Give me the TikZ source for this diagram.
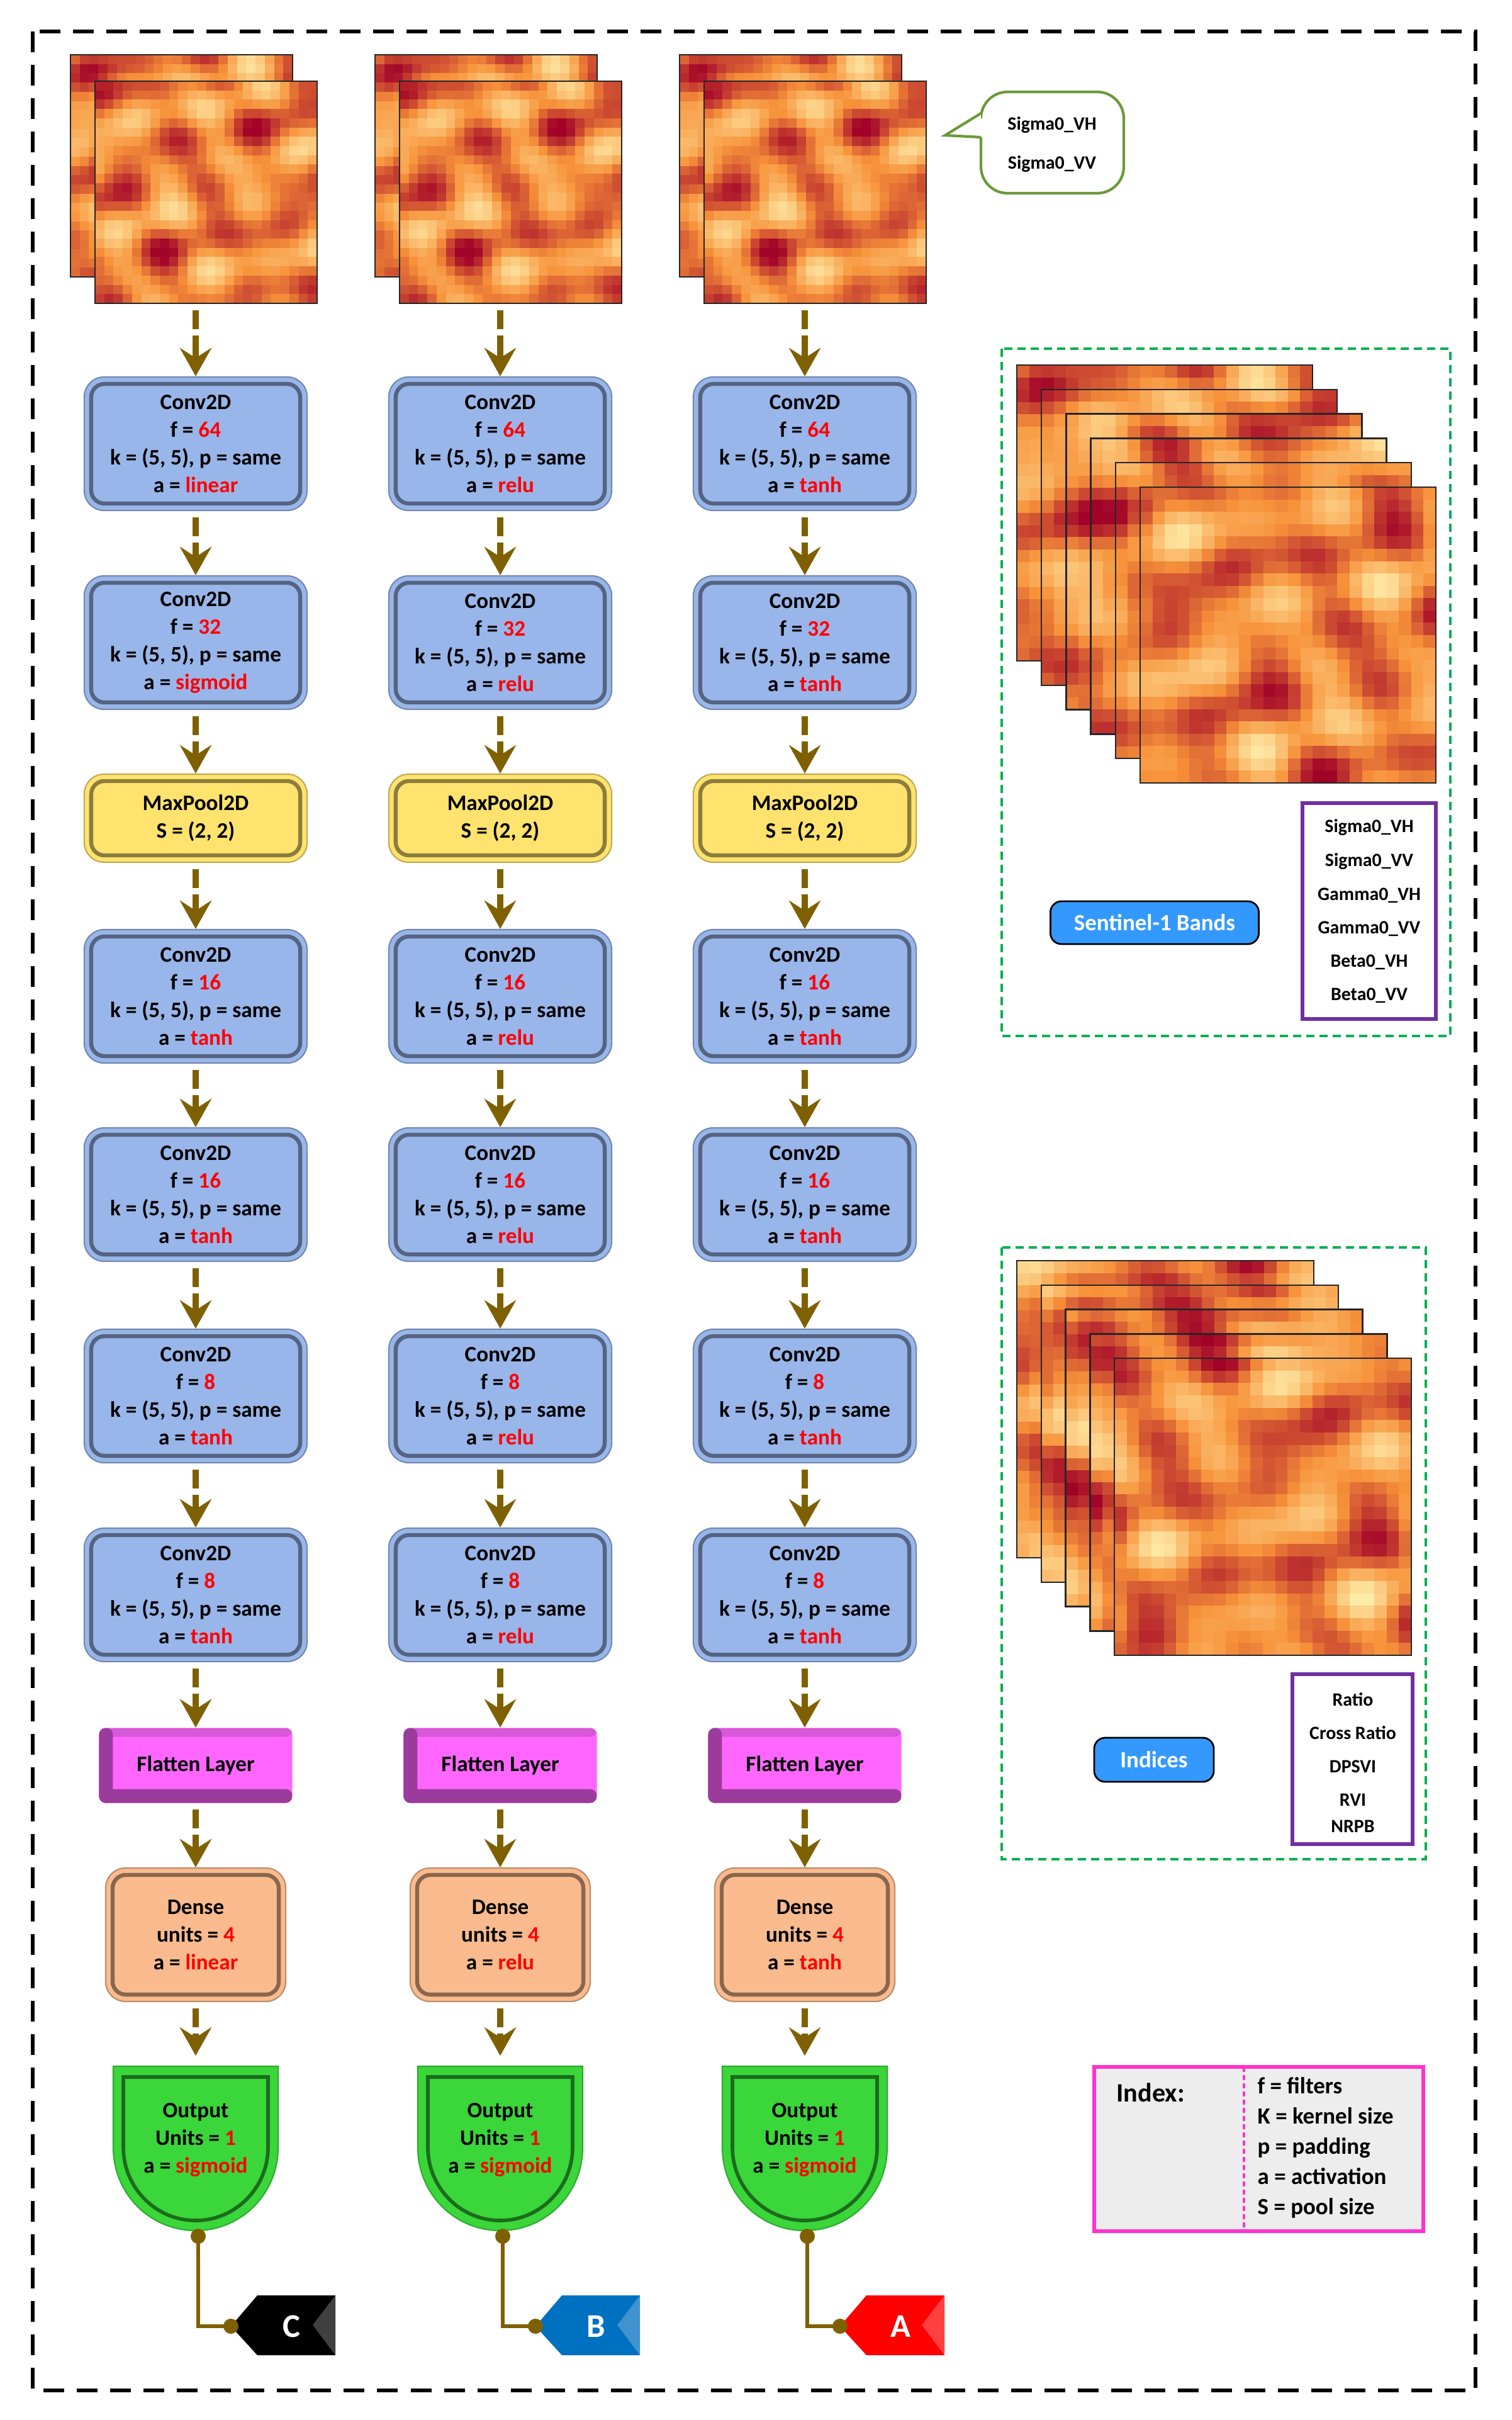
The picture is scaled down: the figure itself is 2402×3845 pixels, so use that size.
\documentclass[tikz,border=0pt]{standalone}
\usepackage{fontspec}
\setmainfont{Carlito}
\usetikzlibrary{arrows.meta,calc}
\definecolor{convc}{HTML}{99B6EA}
\definecolor{poolc}{HTML}{FFE36E}
\definecolor{flatc}{HTML}{FF66FF}
\definecolor{flatd}{HTML}{9B3B9B}
\definecolor{densc}{HTML}{F9BB8D}
\definecolor{outc}{HTML}{3AD63A}
\definecolor{arrc}{HTML}{7F6000}
\definecolor{valred}{HTML}{FF0000}
\definecolor{hc0}{HTML}{FFF2B0}
\definecolor{hc1}{HTML}{F7923A}
\definecolor{hc2}{HTML}{A00028}
\definecolor{tagb}{HTML}{0070C0}
\definecolor{tagr}{HTML}{FF0000}
\definecolor{purp}{HTML}{7030A0}
\definecolor{grn}{HTML}{00B050}
\definecolor{pink}{HTML}{FF33CC}
\definecolor{btn}{HTML}{3399FF}
\definecolor{callg}{HTML}{6A9A3A}
\newcommand\rv[1]{\textcolor{valred}{#1}}
\newcommand\bx{\fontsize{10}{12.5}\selectfont\bfseries}
\newcommand\heat[4]{%
\begin{scope}[shift={(#1,#2)}]
\pgfmathsetmacro\cs{#3/24}
\foreach \i in {0,...,23}{\foreach \j in {0,...,23}{%
 \pgfmathsetmacro\v{max(0,min(0.999,0.54+0.2*sin(33*\i+#4)*cos(27*\j+2*#4)+0.15*sin(15*\i+36*\j+3*#4)+0.12*cos(48*\i-20*\j+#4)+0.1*sin(62*\j+8*\i+5*#4)))}%
 \ifdim\v pt<0.5pt \pgfmathtruncatemacro\p{200*\v}\def\col{hc1!\p!hc0}\else\pgfmathtruncatemacro\p{200*\v-100}\def\col{hc2!\p!hc1}\fi
 \fill[\col] (\i*\cs,\j*\cs) rectangle ++(\cs+0.6,\cs+0.6);
}}
\draw[black!85,line width=0.7pt] (0,0) rectangle (#3,#3);
\end{scope}}
\tikzset{
 box/.style={draw=#1!75!black, line width=0.6pt, fill=#1, rounded corners=9pt, inner sep=0pt, align=center, font=\bx,
   path picture={\draw[#1!55!black,line width=1.8pt,rounded corners=6pt] ([shift={(11,11)}]path picture bounding box.north west) rectangle ([shift={(-11,-11)}]path picture bounding box.south east);}},
 conv/.style={box=convc, minimum width=3.54cm, minimum height=2.12cm},
 pool/.style={box=poolc, minimum width=3.54cm, minimum height=1.40cm},
 dens/.style={box=densc, minimum width=2.86cm, minimum height=2.12cm},
 flat/.style={fill=flatc, rounded corners=3pt, inner sep=0pt, font=\bx, minimum width=3.07cm, minimum height=1.19cm,
   path picture={
     \fill[flatc!85!black] (path picture bounding box.north west) rectangle ([shift={(0,14)}]path picture bounding box.north east);
     \fill[flatd] (path picture bounding box.south west) rectangle ([shift={(0,-22)}]path picture bounding box.south east);
     \fill[flatd] (path picture bounding box.south west) rectangle ([shift={(22,0)}]path picture bounding box.north west);}},
 ghost/.style={inner sep=0pt, minimum width=#1, minimum height=#1},
 arr/.style={draw=arrc, line width=2.8pt, dash pattern=on 0.3cm off 0.1cm on 3cm, -{Stealth[length=0.45cm,width=0.5cm,inset=0.16cm]}, shorten <=0.1cm},
 conn/.style={draw=arrc, line width=1.5pt},
 plist/.style={font=\fontsize{8.5}{10}\selectfont\bfseries},
 button/.style={fill=btn, draw=black, line width=0.8pt, rounded corners=5pt, text=white, font=\fontsize{10.5}{12}\selectfont\bfseries, inner sep=0pt},
}
% #1 prefix, #2 cx, #3 act1, #4 act2, #5 act, #6 dense act, #7 tag color, #8 letter, #9 phase
\newcommand\mkcol[9]{%
 \heat{#2-199}{87}{353}{#9}
 \heat{#2-160}{129}{353}{#9+40}
 \node[ghost=3.53cm] (#1im) at (#2+16.5,305.5) {};
 \node[conv] (#1c1) at (#2,705) {Conv2D\\f = \rv{64}\\k = (5, 5), p = same\\a = \rv{#3}};
 \node[conv] (#1c2) at (#2,1021) {Conv2D\\f = \rv{32}\\k = (5, 5), p = same\\a = \rv{#4}};
 \node[pool] (#1mp) at (#2,1300) {MaxPool2D\\S = (2, 2)};
 \node[conv] (#1c3) at (#2,1583) {Conv2D\\f = \rv{16}\\k = (5, 5), p = same\\a = \rv{#5}};
 \node[conv] (#1c4) at (#2,1898) {Conv2D\\f = \rv{16}\\k = (5, 5), p = same\\a = \rv{#5}};
 \node[conv] (#1c5) at (#2,2218) {Conv2D\\f = \rv{8}\\k = (5, 5), p = same\\a = \rv{#5}};
 \node[conv] (#1c6) at (#2,2534) {Conv2D\\f = \rv{8}\\k = (5, 5), p = same\\a = \rv{#5}};
 \node[flat] (#1fl) at (#2,2805) {Flatten Layer};
 \node[dens] (#1de) at (#2,3074) {Dense\\units = \rv{4}\\a = \rv{#6}};
 \path[fill=outc, draw=outc!80!black, line width=0.6pt] (#2-131,3283) -- (#2+131,3283) -- (#2+131,3412)
   .. controls (#2+131,3485) and (#2+73,3544) .. (#2,3544) .. controls (#2-73,3544) and (#2-131,3485) .. (#2-131,3412) -- cycle;
 \path[draw=outc!50!black, line width=1.6pt] (#2-115,3300) -- (#2+115,3300) -- (#2+115,3412)
   .. controls (#2+115,3475) and (#2+64,3528) .. (#2,3528) .. controls (#2-64,3528) and (#2-115,3475) .. (#2-115,3412) -- cycle;
 \node[ghost=2.62cm, align=center, font=\bx] (#1out) at (#2,3400) {Output\\Units = \rv{1}\\a = \rv{sigmoid}};
 \coordinate (#1ob) at (#2+4,3553);
 \coordinate (#1tip) at (#2+56,3696);
 \fill[#7] (#1tip) -- ++(42,-49) -- ++(124,0) -- ++(0,95) -- ++(-124,0) -- cycle;
 \fill[white,opacity=0.25] ($(#1tip)+(166,-49)$) -- ++(-36,47) -- ++(36,48) -- cycle;
 \node[text=white, font=\fontsize{15}{15}\selectfont\bfseries] (#1tag) at ($(#1tip)+(96,0)$) {#8};
 \draw[arr] (#1im.south -| #1c1.north) -- (#1c1.north);
 \draw[arr] (#1c1.south) -- (#1c2.north);
 \draw[arr] (#1c2.south) -- (#1mp.north);
 \draw[arr] (#1mp.south) -- (#1c3.north);
 \draw[arr] (#1c3.south) -- (#1c4.north);
 \draw[arr] (#1c4.south) -- (#1c5.north);
 \draw[arr] (#1c5.south) -- (#1c6.north);
 \draw[arr] (#1c6.south) -- (#1fl.north);
 \draw[arr] (#1fl.south) -- (#1de.north);
 \draw[arr] (#1de.south) -- ([yshift=0.02cm]#1out.north);
 \draw[conn] (#1ob) |- (#1tip);
 \fill[arrc] (#1ob) circle[radius=0.12cm];
 \fill[arrc] (#1tip) circle[radius=0.12cm];
}
\begin{document}
\begin{tikzpicture}[x=0.01cm,y=-0.01cm]
\useasboundingbox (0,0) rectangle (2402,3845);
\fill[white] (0,0) rectangle (2402,3845);
\draw[black, line width=1.5pt, dash pattern=on 0.33cm off 0.2cm] (52,50) rectangle (2345,3798);
\mkcol{L}{311}{linear}{sigmoid}{tanh}{linear}{black}{C}{0}
\mkcol{M}{795}{relu}{relu}{relu}{relu}{tagb}{B}{0}
\mkcol{R}{1279}{tanh}{tanh}{tanh}{tanh}{tagr}{A}{0}
% callout
\draw[callg, line width=1.2pt, fill=white, rounded corners=12pt] (1559,218) -- (1559,307) -- (1786,307) -- (1786,146) -- (1559,146) -- (1559,180);
\draw[callg, line width=1.2pt, fill=white] (1559,180) -- (1502,215) -- (1559,218);
\node[plist] (cal1) at (1672,199) {Sigma0\_VH};
\node[plist] (cal2) at (1672,261) {Sigma0\_VV};
% panel 1
\draw[grn, line width=1.2pt, dash pattern=on 0.13cm off 0.08cm] (1592,554) rectangle (2305,1646);
\foreach \k in {0,...,5}{\heat{1616+39.2*\k}{580+38.8*\k}{470}{30*\k}}
\draw[purp, line width=1.5pt] (2070,1276) rectangle (2282,1619);
\node[plist] (p1a) at (2176,1315) {Sigma0\_VH};
\node[plist] (p1b) at (2176,1369) {Sigma0\_VV};
\node[plist] (p1c) at (2176,1423) {Gamma0\_VH};
\node[plist] (p1d) at (2176,1476) {Gamma0\_VV};
\node[plist] (p1e) at (2176,1529) {Beta0\_VH};
\node[plist] (p1f) at (2176,1582) {Beta0\_VV};
\node[button, minimum width=3.31cm, minimum height=0.68cm] (b1) at (1835,1466) {Sentinel-1 Bands};
% panel 2
\draw[grn, line width=1.2pt, dash pattern=on 0.13cm off 0.08cm] (1592,1982) rectangle (2266,2954);
\foreach \k in {0,...,4}{\heat{1616+38.75*\k}{2003+38.75*\k}{472}{200+35*\k}}
\draw[purp, line width=1.5pt] (2054,2660) rectangle (2245,2930);
\node[plist] (p2a) at (2150,2700) {Ratio};
\node[plist] (p2b) at (2150,2753) {Cross Ratio};
\node[plist] (p2c) at (2150,2807) {DPSVI};
\node[plist] (p2d) at (2150,2860) {RVI};
\node[plist] (p2e) at (2150,2902) {NRPB};
\node[button, minimum width=1.9cm, minimum height=0.7cm] (b2) at (1834,2796) {Indices};
% index box
\draw[pink, line width=1.5pt, fill=black!7] (1739,3284) rectangle (2262,3545);
\draw[pink, line width=1.2pt, dash pattern=on 0.08cm off 0.05cm] (1977,3284) -- (1977,3545);
\node[font=\fontsize{12}{14}\selectfont\bfseries, anchor=west] (ix) at (1762,3325) {Index:};
\node[font=\fontsize{10.5}{13.6}\selectfont\bfseries, anchor=north west, align=left, inner sep=0pt] (ixl) at (1998,3300)
 {f = filters\\K = kernel size\\p = padding\\a = activation\\S = pool size};
\end{tikzpicture}
\end{document}
